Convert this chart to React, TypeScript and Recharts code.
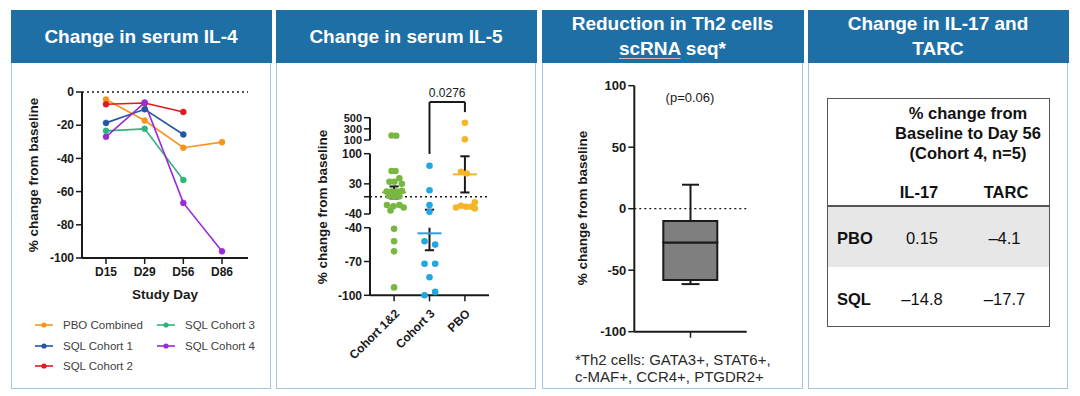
import React from 'react';
import {
  LineChart, Line, XAxis, YAxis, ReferenceLine, Legend,
  ScatterChart, Scatter, ErrorBar, ComposedChart, Bar,
} from 'recharts';

const FONT = '"Liberation Sans", Arial, Helvetica, sans-serif';
const INK = '#1a1a1a';
const HEADER_BLUE = '#1f6fa7';
const PANEL_BORDER = '#a3c6e2';

// ---------------- Panel 1 : serum IL-4 ----------------
const studyDays = ['D15', 'D29', 'D56', 'D86'];
const pboCombined = [-4.5, -17.2, -33.6, -30.2];
const sqlCohort1 = [-18.6, -10.4, -25.6, null];
const sqlCohort2 = [-7.4, -6.6, -12.0, null];
const sqlCohort3 = [-23.4, -22.2, -53.0, null];
const sqlCohort4 = [-27.0, -6.4, -66.8, -96.0];
const il4Ticks = [0, -20, -40, -60, -80, -100];
const il4SeriesNames = ['PBO Combined', 'SQL Cohort 1', 'SQL Cohort 2', 'SQL Cohort 3', 'SQL Cohort 4'];
const il4Colors = ['#f7941d', '#2257a4', '#e3191f', '#2db57c', '#9b2ad8'];
const il4Keys = ['pbo', 'c1', 'c2', 'c3', 'c4'];
const il4Values = [pboCombined, sqlCohort1, sqlCohort2, sqlCohort3, sqlCohort4];
const il4Data = studyDays.map((day, i) => {
  const row: any = { day };
  il4Keys.forEach((k, s) => { row[k] = il4Values[s][i]; });
  return row;
});

// ---------------- Panel 2 : serum IL-5 ----------------
const il5Groups = ['Cohort 1&2', 'Cohort 3', 'PBO'];
const cohort12Values = [180, 175, 60, 60, 43, 35, 35, 30, 12, 12, 12, 14, 2, 0, 1, -19, -22, -19, -25, -32, -41, -52, -61, -93];
const cohort12Jitter = [-0.07, 0.06, -0.07, 0.04, 0.15, -0.13, 0.01, 0.22, -0.21, -0.07, 0.08, 0.22, -0.15, 0, 0.15, -0.2, -0.02, 0.15, 0.27, -0.1, 0, 0, 0, 0];
const cohort3Values = [72, 15, -19, -35, -52, -55, -72, -72, -84, -100, -97];
const cohort3Jitter = [0, 0, 0, 0, -0.14, 0.16, -0.14, 0.16, 0, -0.14, 0.16];
const pboIl5Values = [410, 112, 58, 54, -25, -21, -23, -23, -13, -27];
const pboIl5Jitter = [0, 0, -0.11, 0.05, -0.25, -0.11, 0.03, 0.17, 0.28, 0.28];
const il5Means = [10, -45, 52];
const il5Sem = [14, 15, 42];
const il5Colors = ['#79b743', '#22a6e3', '#f5b52a'];
const il5PValue = '0.0276';
const il5BracketTop = 780;
const il5BracketLeftFoot = -150;
const il5BracketRightFoot = 600;

const il5GroupValues = [cohort12Values, cohort3Values, pboIl5Values];
const il5GroupJitter = [cohort12Jitter, cohort3Jitter, pboIl5Jitter];

const il5Segments = [
  { domain: [100, 500], ticks: [100, 300, 500], tickFont: 11, top: 80, height: 80, margin: { top: 37.7, right: 11, bottom: 20, left: 0 }, test: (v: number) => v > 100, axis: false, bracket: true, zero: false },
  { domain: [-40, 100], ticks: [-40, 0, 30, 100], tickFont: 12, top: 145, height: 80, margin: { top: 8.7, right: 11, bottom: 11, left: 0 }, test: (v: number) => v >= -40 && v <= 100, axis: false, bracket: false, zero: true },
  { domain: [-100, -40], ticks: [-100, -70, -40], tickFont: 12, top: 220, height: 150, margin: { top: 7.7, right: 11, bottom: 14.7, left: 0 }, test: (v: number) => v < -40, axis: true, bracket: false, zero: false },
];
const CAP_HALF = 0.13;  // in category units
const MEAN_HALF = 0.34; // in category units

// ---------------- Panel 3 : Th2 box plot ----------------
const th2Groups = ['Th2'];
const th2Min = [-61.3];
const th2Q1 = [-58];
const th2Median = [-27.5];
const th2Q3 = [-10];
const th2Max = [19.5];
const th2Ticks = [-100, -50, 0, 50, 100];
const th2Data = th2Groups.map((name, i) => ({
  name,
  lowerBox: [th2Q1[i], th2Median[i]],
  upperBox: [th2Median[i], th2Q3[i]],
  q1: th2Q1[i],
  q3: th2Q3[i],
  lowWhisker: [th2Q1[i] - th2Min[i], 0],
  highWhisker: [0, th2Max[i] - th2Q3[i]],
}));

// ---------------- Panel 4 : table ----------------
const il17HeaderLines = ['% change from', 'Baseline to Day 56', '(Cohort 4, n=5)'];
const il17Columns = ['IL-17', 'TARC'];
const il17Rows = ['PBO', 'SQL'];
const il17Values = [[0.15, -4.1], [-14.8, -17.7]];
const fmt = (v: number) => (v < 0 ? '\u2013' + Math.abs(v) : String(v));

const axisLine = { stroke: INK, strokeWidth: 2 };
const tickLine = { stroke: INK, strokeWidth: 1.5 };
const boldTick = (size: number) => ({ fill: INK, fontSize: size, fontWeight: 700, fontFamily: FONT });

function Panel({ left, width, title }: any) {
  return (
    <div style={{ position: 'absolute', left, top: 10, width, height: 379, border: `1.5px solid ${PANEL_BORDER}`, boxSizing: 'border-box' }}>
      <div style={{ position: 'absolute', left: -1.5, top: -1.5, right: -1.5, height: 53, background: HEADER_BLUE, color: '#fff', fontFamily: FONT, fontWeight: 700, fontSize: 19, lineHeight: '25px', display: 'flex', flexDirection: 'column', alignItems: 'center', justifyContent: 'center', textAlign: 'center' }}>
        {title}
      </div>
    </div>
  );
}

function VLabel({ x, y, text, size = 13.5 }: any) {
  return (
    <div style={{ position: 'absolute', left: x, top: y, transform: 'translate(-50%, -50%) rotate(-90deg)', whiteSpace: 'nowrap', fontFamily: FONT, fontWeight: 700, fontSize: size, color: INK }}>
      {text}
    </div>
  );
}

function Il4Legend(props: any) {
  const payload = props.payload || [];
  return (
    <div style={{ display: 'grid', gridTemplateRows: 'repeat(3, 20.5px)', gridAutoFlow: 'column', gridTemplateColumns: '122px 110px', fontFamily: FONT, fontSize: 11.5, color: '#404040' }}>
      {payload.map((p: any) => (
        <div key={p.value} style={{ display: 'flex', alignItems: 'center', whiteSpace: 'nowrap' }}>
          <svg width={18} height={8} style={{ flex: 'none' }}>
            <line x1={0} y1={4} x2={18} y2={4} stroke={p.color} strokeWidth={1.6} />
            <circle cx={9} cy={4} r={2.6} fill={p.color} />
          </svg>
          <span style={{ marginLeft: 10 }}>{p.value}</span>
        </div>
      ))}
    </div>
  );
}

// mean +/- SEM marks of one broken-axis segment, cut to that segment's range
function il5SummaryMarks(seg: any) {
  const [lo, hi] = seg.domain;
  const bars: any[] = [];
  const means: any[] = [];
  il5Groups.forEach((name, g) => {
    const x = g + 1;
    const m = il5Means[g];
    const a = m - il5Sem[g];
    const b = m + il5Sem[g];
    const y1 = Math.max(a, lo);
    const y2 = Math.min(b, hi);
    if (y1 < y2) {
      bars.push(<ReferenceLine key={`v${g}`} yAxisId="pts" ifOverflow="visible" stroke={INK} strokeWidth={2}
        segment={[{ x, y: y1 }, { x, y: y2 }]} />);
    }
    [a, b].forEach((c, k) => {
      if (c >= lo && c <= hi) {
        bars.push(<ReferenceLine key={`c${g}${k}`} yAxisId="pts" ifOverflow="visible" stroke={INK} strokeWidth={2}
          segment={[{ x: x - CAP_HALF, y: c }, { x: x + CAP_HALF, y: c }]} />);
      }
    });
    if (m >= lo && m <= hi) {
      means.push(<ReferenceLine key={`m${g}`} yAxisId="pts" ifOverflow="visible" stroke={il5Colors[g]} strokeWidth={2}
        segment={[{ x: x - MEAN_HALF, y: m }, { x: x + MEAN_HALF, y: m }]} />);
    }
  });
  return [...bars, ...means];
}

function Il5Segment({ seg }: any) {
  return (
    <div style={{ position: 'absolute', left: 300, top: seg.top }}>
      <ScatterChart width={200} height={seg.height} margin={seg.margin}>
        <XAxis
          type="number" dataKey="x" domain={[0.32, 3.68]} ticks={[1, 2, 3]} hide={!seg.axis}
          height={60} tickSize={6} tickMargin={7} angle={-45} textAnchor="end" interval={0}
          tickFormatter={(v: number) => il5Groups[v - 1]}
          axisLine={axisLine} tickLine={tickLine} tick={boldTick(12)}
        />
        <YAxis
          yAxisId="pts" type="number" dataKey="y" domain={seg.domain} ticks={seg.ticks} interval={0}
          width={70} tickSize={6} tickMargin={2}
          tickFormatter={(v: number) => (v === 0 ? '' : String(v))}
          axisLine={axisLine} tickLine={tickLine} tick={boldTick(seg.tickFont)}
        />
        {seg.zero && <ReferenceLine yAxisId="pts" y={0} stroke={INK} strokeWidth={1.5} strokeDasharray="2 3" />}
        {il5Groups.map((name, g) => {
          const pts = il5GroupValues[g]
            .map((v, i) => ({ x: g + 1 + il5GroupJitter[g][i], y: v }))
            .filter((p) => seg.test(p.y));
          return (
            <Scatter
              key={name} name={name} yAxisId="pts" data={pts} isAnimationActive={false}
              shape={(p: any) => <circle cx={p.cx} cy={p.cy} r={3.3} fill={il5Colors[g]} />}
            />
          );
        })}
        {il5SummaryMarks(seg)}
        {seg.bracket && (
          <ReferenceLine yAxisId="pts" ifOverflow="visible" stroke={INK} strokeWidth={2}
            segment={[{ x: 2, y: il5BracketLeftFoot }, { x: 2, y: il5BracketTop }]} />
        )}
        {seg.bracket && (
          <ReferenceLine yAxisId="pts" ifOverflow="visible" stroke={INK} strokeWidth={2}
            segment={[{ x: 2, y: il5BracketTop }, { x: 3, y: il5BracketTop }]}
            label={{ value: il5PValue, position: 'top', fill: INK, fontSize: 12, fontFamily: FONT }} />
        )}
        {seg.bracket && (
          <ReferenceLine yAxisId="pts" ifOverflow="visible" stroke={INK} strokeWidth={2}
            segment={[{ x: 3, y: il5BracketTop }, { x: 3, y: il5BracketRightFoot }]} />
        )}
      </ScatterChart>
    </div>
  );
}

export default function App() {
  return (
    <div style={{ position: 'absolute', left: 0, top: 0, width: 1080, height: 396, background: '#fff', fontFamily: FONT, overflow: 'hidden' }}>
      <Panel left={11} width={260} title={<span>Change in serum IL-4</span>} />
      <Panel left={276} width={260} title={<span>Change in serum IL-5</span>} />
      <Panel left={542} width={261} title={<><span>Reduction in Th2 cells</span><span><span style={{ textDecoration: 'underline', textDecorationColor: '#d7b3bd', textDecorationThickness: '1px', textUnderlineOffset: '3px' }}>scRNA</span> seq*</span></>} />
      <Panel left={808} width={260} title={<><span>Change in IL-17 and</span><span>TARC</span></>} />

      {/* Panel 1 */}
      <div style={{ position: 'absolute', left: 0, top: 0 }}>
        <LineChart width={271} height={389} data={il4Data} margin={{ top: 92, right: 23, left: 32, bottom: 101 }}>
          <XAxis dataKey="day" padding={{ left: 24, right: 26 }} height={30} tickSize={6} tickMargin={3}
            axisLine={axisLine} tickLine={tickLine} tick={boldTick(12)} />
          <YAxis type="number" domain={[-100, 0]} ticks={il4Ticks} interval={0} width={50} tickSize={6} tickMargin={2}
            axisLine={axisLine} tickLine={tickLine} tick={boldTick(12)} />
          <ReferenceLine y={0} stroke={INK} strokeWidth={1.5} strokeDasharray="2 3" />
          {il4Keys.map((k, s) => (
            <Line key={k} dataKey={k} name={il4SeriesNames[s]} stroke={il4Colors[s]} strokeWidth={1.6}
              dot={{ r: 3, fill: il4Colors[s], stroke: il4Colors[s], strokeWidth: 0.5 }}
              isAnimationActive={false} />
          ))}
          <Legend layout="vertical" align="center" verticalAlign="middle" content={<Il4Legend />}
            wrapperStyle={{ left: 35, top: 315, width: 240 }} />
        </LineChart>
      </div>
      <VLabel x={33} y={175} text="% change from baseline" />
      <div style={{ position: 'absolute', left: 165, top: 294, transform: 'translate(-50%, -50%)', fontWeight: 700, fontSize: 13.5, color: INK, whiteSpace: 'nowrap' }}>Study Day</div>

      {/* Panel 2 */}
      {il5Segments.map((seg, i) => <Il5Segment key={i} seg={seg} />)}
      <VLabel x={322} y={207} text="% change from baseline" />

      {/* Panel 3 */}
      <div style={{ position: 'absolute', left: 542, top: 70 }}>
        <ComposedChart width={261} height={280} data={th2Data} margin={{ top: 15.7, right: 56.3, left: 22.3, bottom: 0 }}>
          <XAxis xAxisId="a" dataKey="name" height={18.3} tickSize={6} tickFormatter={() => ''}
            axisLine={axisLine} tickLine={tickLine} tick={boldTick(12)} />
          <XAxis xAxisId="b" dataKey="name" hide />
          <YAxis type="number" domain={[-100, 100]} ticks={th2Ticks} interval={0} width={70} tickSize={6} tickMargin={2}
            axisLine={axisLine} tickLine={tickLine} tick={boldTick(13)} />
          <ReferenceLine xAxisId="a" y={0} stroke={INK} strokeWidth={1.2} strokeDasharray="2 3" />
          <Scatter xAxisId="a" dataKey="q3" isAnimationActive={false} shape={() => <g />}>
            <ErrorBar dataKey="highWhisker" direction="y" width={8.5} stroke={INK} strokeWidth={2} />
          </Scatter>
          <Scatter xAxisId="a" dataKey="q1" isAnimationActive={false} shape={() => <g />}>
            <ErrorBar dataKey="lowWhisker" direction="y" width={9} stroke={INK} strokeWidth={2} />
          </Scatter>
          <Bar xAxisId="a" dataKey="lowerBox" barSize={54} fill="#7f7f7f" stroke={INK} strokeWidth={2} isAnimationActive={false} />
          <Bar xAxisId="b" dataKey="upperBox" barSize={54} fill="#7f7f7f" stroke={INK} strokeWidth={2} isAnimationActive={false} />
        </ComposedChart>
      </div>
      <VLabel x={582} y={208} text="% change from baseline" />
      <div style={{ position: 'absolute', left: 690, top: 97, transform: 'translate(-50%, -50%)', fontSize: 13, color: INK, whiteSpace: 'nowrap' }}>(p=0.06)</div>
      <div style={{ position: 'absolute', left: 575, top: 351, fontSize: 15, lineHeight: '17px', color: '#2a2a2a', whiteSpace: 'nowrap' }}>
        <div>*Th2 cells: GATA3+, STAT6+,</div>
        <div>c-MAF+, CCR4+, PTGDR2+</div>
      </div>

      {/* Panel 4 */}
      <div style={{ position: 'absolute', left: 827, top: 98, width: 223, height: 229, border: '1.5px solid #555', boxSizing: 'border-box', fontSize: 16.5, color: '#111' }}>
        <div style={{ position: 'absolute', left: 40, top: 4, width: 200, textAlign: 'center', fontWeight: 700, lineHeight: '20px' }}>
          {il17HeaderLines.map((l) => <div key={l}>{l}</div>)}
        </div>
        {il17Columns.map((c, j) => (
          <div key={c} style={{ position: 'absolute', left: j === 0 ? 91 : 178, top: 93, transform: 'translate(-50%, -50%)', fontWeight: 700, whiteSpace: 'nowrap' }}>{c}</div>
        ))}
        <div style={{ position: 'absolute', left: 0, right: 0, top: 106, height: 1.5, background: '#555' }} />
        <div style={{ position: 'absolute', left: 0, right: 0, top: 107.5, height: 60, background: '#e7e7e7' }} />
        {il17Rows.map((r, i) => (
          <React.Fragment key={r}>
            <div style={{ position: 'absolute', left: 9, top: (i === 0 ? 138.5 : 200), transform: 'translateY(-50%)', fontWeight: 700 }}>{r}</div>
            {il17Values[i].map((v, j) => (
              <div key={j} style={{ position: 'absolute', left: j === 0 ? 94 : 176.5, top: (i === 0 ? 138.5 : 200), transform: 'translate(-50%, -50%)', whiteSpace: 'nowrap' }}>{fmt(v)}</div>
            ))}
          </React.Fragment>
        ))}
      </div>
    </div>
  );
}
